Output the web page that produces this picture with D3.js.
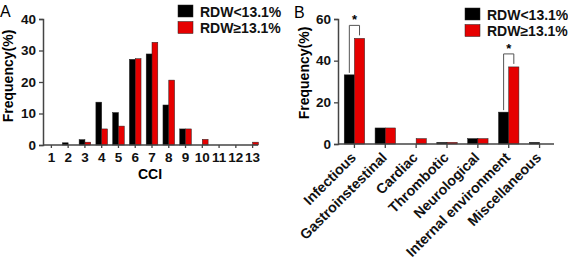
<!DOCTYPE html>
<html>
<head>
<meta charset="utf-8">
<script src="https://cdn.jsdelivr.net/npm/d3@7"></script>
<style>
  body { margin: 0; background: #fff; }
  svg text { font-family: "Liberation Sans", Arial, sans-serif; }
</style>
</head>
<body>
<svg id="chart" width="568" height="262"></svg>
<script>
// panel A: CCI distribution
const cciLevels = ["1","2","3","4","5","6","7","8","9","10","11","12","13"];
const cciLow  = [0, 0.7, 1.7, 13.6, 10.3, 27.2, 28.9, 12.7, 5.1, 0, 0, 0, 0];
const cciHigh = [0, 0, 0.9, 5.1, 6.0, 27.4, 32.6, 20.6, 5.1, 1.8, 0, 0, 0.9];
const cciTicks = [0, 10, 20, 30, 40];

// panel B: complication type
const types = ["Infectious","Gastroinstestinal","Cardiac","Thrombotic","Neurological","Internal environment","Miscellaneous"];
const typeLow  = [33.2, 7.7, 0, 0.8, 2.6, 15.3, 0.8];
const typeHigh = [50.7, 7.7, 2.6, 0.8, 2.6, 37.0, 0];
const typeTicks = [0, 20, 40, 60];
const sigTypes = ["Infectious", "Internal environment"];

const groups = ["RDW<13.1%", "RDW\u226513.1%"];
const colors = ["#000000", "#e60000"];
const axisColor = "#444";

const svg = d3.select("#chart");

function styleAxis(g, size) {
  g.select(".domain").attr("stroke", axisColor).attr("stroke-width", 1.5);
  g.selectAll(".tick line").attr("stroke", axisColor).attr("stroke-width", 1.3);
  g.selectAll(".tick text")
    .attr("fill", "#111")
    .style("font-size", size + "px")
    .style("font-weight", "bold");
}

function legend(x, y) {
  const lg = svg.append("g").attr("transform", `translate(${x},${y})`);
  groups.forEach((name, i) => {
    lg.append("rect")
      .attr("x", 0).attr("y", i * 16.5)
      .attr("width", 15).attr("height", 12)
      .attr("fill", colors[i]).attr("stroke", "#222").attr("stroke-width", 0.5);
    lg.append("text")
      .attr("x", 22).attr("y", i * 16.5 + 11.5)
      .style("font-size", "14px").style("font-weight", "bold")
      .attr("fill", "#111")
      .text(name);
  });
}

// ---------- Panel A ----------
{
  const x = d3.scaleBand().domain(cciLevels).range([43, 261]);
  const y = d3.scaleLinear().domain([0, 40]).range([145, 19]);
  const bw = 5.8;

  const gx = svg.append("g")
    .attr("transform", "translate(0,145)")
    .call(d3.axisBottom(x).tickSizeOuter(0).tickSize(3).tickPadding(4));
  styleAxis(gx, 13.5);
  gx.select(".domain").attr("d", "M43,0H258");

  const gy = svg.append("g")
    .attr("transform", "translate(43,0)")
    .call(d3.axisLeft(y).tickValues(cciTicks).tickSizeOuter(0).tickSize(4).tickPadding(3));
  styleAxis(gy, 13.5);

  const bars = svg.append("g");
  [cciLow, cciHigh].forEach((vals, gi) => {
    bars.selectAll(null)
      .data(vals.map((v, i) => ({ k: cciLevels[i], v })).filter(d => d.v > 0))
      .enter().append("rect")
      .attr("x", d => x(d.k) + x.bandwidth() / 2 + (gi === 0 ? -bw : 0))
      .attr("y", d => y(d.v))
      .attr("width", bw)
      .attr("height", d => y(0) - y(d.v))
      .attr("fill", colors[gi])
      .attr("stroke", "#222").attr("stroke-width", 0.5);
  });
  gx.raise();

  svg.append("text")
    .attr("x", 150).attr("y", 179)
    .attr("text-anchor", "middle")
    .style("font-size", "14px").style("font-weight", "bold")
    .text("CCI");

  svg.append("text")
    .attr("transform", "translate(12.5,76) rotate(-90)")
    .attr("text-anchor", "middle")
    .style("font-size", "14px").style("font-weight", "bold")
    .text("Frequency(%)");

  svg.append("text")
    .attr("x", 0).attr("y", 17)
    .style("font-size", "16px")
    .text("A");

  legend(178, 5);
}

// ---------- Panel B ----------
{
  const x = d3.scaleBand().domain(types).range([339, 555]);
  const y = d3.scaleLinear().domain([0, 60]).range([144, 19]);
  const bw = 10.2;

  const gx = svg.append("g")
    .attr("transform", "translate(0,144)")
    .call(d3.axisBottom(x).tickSizeOuter(0).tickSize(4).tickPadding(3));
  styleAxis(gx, 14.2);
  gx.select(".domain").attr("d", "M338,0H554");
  gx.selectAll(".tick text")
    .attr("x", 0).attr("y", 0).attr("dy", 0)
    .attr("text-anchor", "end")
    .attr("transform", "translate(2.5,14.5) rotate(-45)");

  const gy = svg.append("g")
    .attr("transform", "translate(338,0)")
    .call(d3.axisLeft(y).tickValues(typeTicks).tickSizeOuter(0).tickSize(4).tickPadding(3));
  styleAxis(gy, 13.5);

  const cx = k => x(k) + x.bandwidth() / 2;

  const bars = svg.append("g");
  [typeLow, typeHigh].forEach((vals, gi) => {
    bars.selectAll(null)
      .data(vals.map((v, i) => ({ k: types[i], v })).filter(d => d.v > 0))
      .enter().append("rect")
      .attr("x", d => cx(d.k) + (gi === 0 ? -bw : 0))
      .attr("y", d => y(d.v))
      .attr("width", bw)
      .attr("height", d => y(0) - y(d.v))
      .attr("fill", colors[gi])
      .attr("stroke", "#222").attr("stroke-width", 0.5);
  });
  gx.raise();

  // significance brackets
  sigTypes.forEach(k => {
    const i = types.indexOf(k);
    const x0 = cx(k) - bw / 2, x1 = cx(k) + bw / 2;
    const top = y(typeHigh[i]) - 13;
    svg.append("path")
      .attr("d", `M${x0},${y(typeLow[i]) - 2}V${top}H${x1}V${y(typeHigh[i]) - 3}`)
      .attr("fill", "none").attr("stroke", "#555").attr("stroke-width", 1);
    svg.append("text")
      .attr("x", cx(k)).attr("y", top - 1)
      .attr("text-anchor", "middle")
      .style("font-size", "13px").style("font-weight", "bold")
      .text("*");
  });

  svg.append("text")
    .attr("transform", "translate(309,73) rotate(-90)")
    .attr("text-anchor", "middle")
    .style("font-size", "14px").style("font-weight", "bold")
    .text("Frequency(%)");

  svg.append("text")
    .attr("x", 294).attr("y", 18)
    .style("font-size", "16px")
    .text("B");

  legend(465, 8);
}
</script>
</body>
</html>
